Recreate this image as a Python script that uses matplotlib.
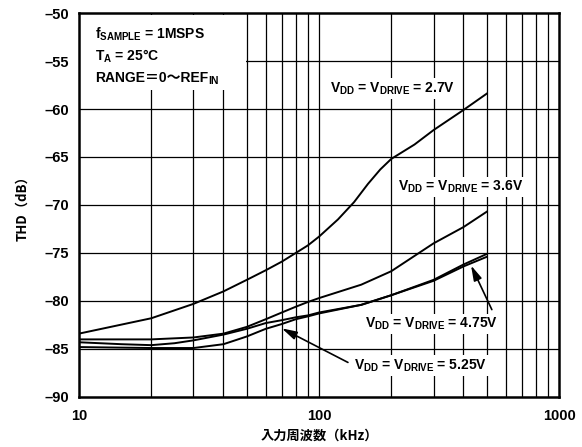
import matplotlib
matplotlib.use("Agg")
import matplotlib.pyplot as plt
from matplotlib.patches import Rectangle

plt.rcParams['font.family'] = ['Liberation Sans', 'Noto Sans CJK JP', 'DejaVu Sans']
plt.rcParams['font.weight'] = 'bold'
plt.rcParams['mathtext.fontset'] = 'custom'
plt.rcParams['mathtext.rm'] = 'Liberation Sans:bold'
plt.rcParams['mathtext.bf'] = 'Liberation Sans:bold'
plt.rcParams['mathtext.it'] = 'Liberation Sans:bold'

# input frequency (kHz) and THD (dB) per supply voltage
freq_27 = [10, 20, 30, 40, 50, 60, 70, 80, 90, 100, 120, 140, 160, 180, 200, 250, 300, 400, 500]
thd_27 = [-83.4, -81.8, -80.3, -79.0, -77.8, -76.8, -75.9, -75.0, -74.2, -73.3, -71.5,
          -69.7, -67.8, -66.3, -65.2, -63.7, -62.2, -60.1, -58.4]

freq_36 = [10, 20, 30, 40, 50, 60, 70, 80, 90, 100, 150, 200, 300, 400, 500]
thd_36 = [-84.0, -84.0, -83.8, -83.4, -82.7, -81.9, -81.2, -80.6, -80.1, -79.7,
          -78.3, -76.9, -74.0, -72.3, -70.7]

freq_475 = [10, 15, 20, 25, 30, 40, 50, 60, 70, 80, 90, 100, 150, 200, 300, 400, 500]
thd_475 = [-84.3, -84.5, -84.6, -84.4, -84.1, -83.5, -82.9, -82.3, -82.0, -81.7,
           -81.5, -81.2, -80.4, -79.4, -77.8, -76.2, -75.1]

freq_525 = [10, 20, 30, 40, 50, 60, 70, 80, 90, 100, 150, 200, 300, 400, 500]
thd_525 = [-84.8, -84.9, -84.9, -84.5, -83.7, -82.9, -82.4, -81.9, -81.6, -81.3,
           -80.4, -79.4, -77.9, -76.4, -75.4]

y_ticks = [-50, -55, -60, -65, -70, -75, -80, -85, -90]
x_ticks = [10, 100, 1000]

fig = plt.figure(figsize=(5.82, 4.47), dpi=100)
ax = fig.add_axes([0.1357, 0.1119, 0.8248, 0.8590])

ax.set_xscale('log')
ax.set_xlim(10, 1000)
ax.set_ylim(-90, -50)

# grid drawn by hand so every line is solid black
minor = [m * d for d in (10, 100) for m in range(2, 10)]
for f in minor + [100]:
    ax.axvline(f, color='black', lw=0.9, zorder=1)
for y in y_ticks[1:-1]:
    ax.axhline(y, color='black', lw=0.9, zorder=1)

for fx, ty in [(freq_27, thd_27), (freq_36, thd_36), (freq_475, thd_475), (freq_525, thd_525)]:
    ax.plot(fx, ty, color='black', lw=1.4, zorder=3)

ax.set_yticks(y_ticks)
ax.set_yticklabels(['\u2013' + str(abs(v)) for v in y_ticks])
ax.set_xticks(x_ticks)
ax.set_xticklabels([str(v) for v in x_ticks])
ax.minorticks_off()
ax.tick_params(length=0, labelsize=10.5)
ax.tick_params(axis='y', pad=7)
ax.tick_params(axis='x', pad=9)
for s in ax.spines.values():
    s.set_linewidth(1.8)
    s.set_zorder(5)

ax.set_ylabel('THD\uff08dB\uff09', family=['Noto Sans CJK JP'], fontsize=9.5,
              fontweight='bold', labelpad=11)
ax.set_xlabel('入力周波数\uff08kHz\uff09', family=['Noto Sans CJK JP'], fontsize=9.5,
              fontweight='bold', labelpad=4)

# condition box, top left
ax.add_patch(Rectangle((0.003, 0.80), 0.345, 0.195, transform=ax.transAxes,
                       facecolor='white', edgecolor='none', zorder=4))
cond = [r'f$_\mathrm{SAMPLE}$ = 1MSPS', r'T$_\mathrm{A}$ = 25°C']
for i, t in enumerate(cond):
    ax.text(0.033, 0.945 - i * 0.057, t, transform=ax.transAxes, fontsize=10,
            va='center', ha='left', zorder=6)
rng = ax.text(0.033, 0.945 - 2 * 0.057, 'RANGE\uff1d0\uff5eREF', transform=ax.transAxes,
              fontsize=10, va='center', ha='left', zorder=6,
              family=['Liberation Sans', 'Noto Sans CJK JP'])
ax.annotate('IN', xy=(1, 0), xycoords=rng, xytext=(0.2, -0.6), textcoords='offset points',
            fontsize=7.5, ha='left', va='bottom', zorder=6)

box = dict(boxstyle='square,pad=0.15', fc='white', ec='none')
labels = [
    (r'V$_\mathrm{DD}$ = V$_\mathrm{DRIVE}$ = 2.7V', 0.522, 0.803),
    (r'V$_\mathrm{DD}$ = V$_\mathrm{DRIVE}$ = 3.6V', 0.665, 0.547),
    (r'V$_\mathrm{DD}$ = V$_\mathrm{DRIVE}$ = 4.75V', 0.596, 0.190),
    (r'V$_\mathrm{DD}$ = V$_\mathrm{DRIVE}$ = 5.25V', 0.573, 0.082),
]
for t, xf, yf in labels:
    ax.text(xf, yf, t, transform=ax.transAxes, fontsize=10, va='center',
            ha='left', bbox=box, zorder=6)

arrow = dict(arrowstyle='-|>,head_length=0.9,head_width=0.25', color='black',
             lw=1.2, shrinkA=0, shrinkB=0)
ax.annotate('', xy=(430, -76.3), xytext=(525, -80.9), arrowprops=arrow, zorder=7)
ax.annotate('', xy=(70, -82.85), xytext=(132, -86.4), arrowprops=arrow, zorder=7)

fig.savefig('out.png', dpi=100)
